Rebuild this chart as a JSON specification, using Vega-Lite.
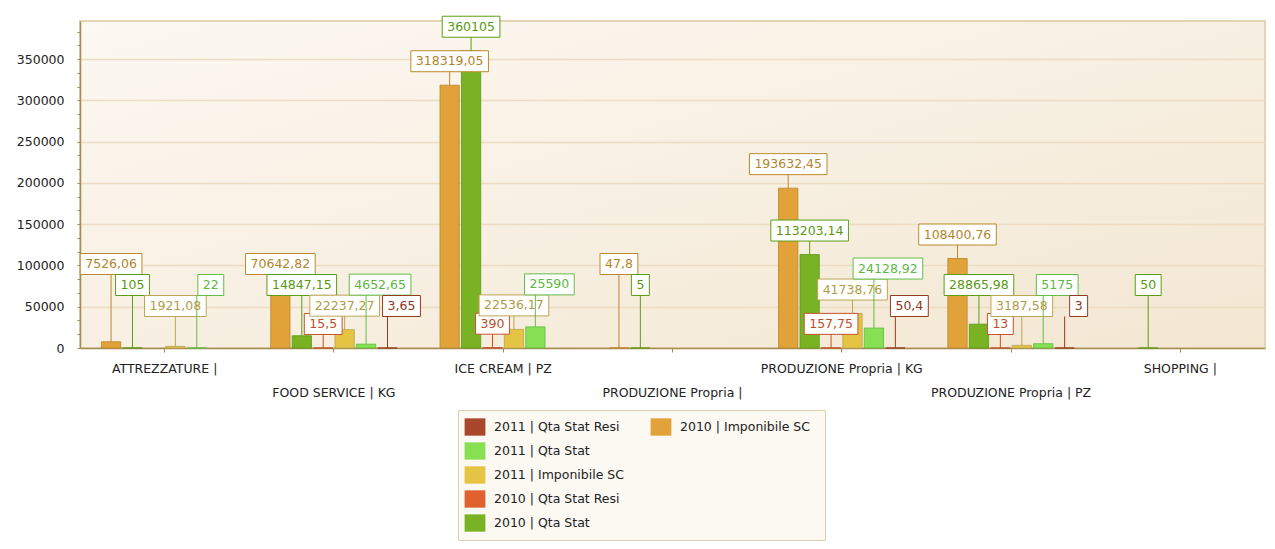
{
  "$schema": "https://vega.github.io/schema/vega-lite/v6.json",
  "width": 1185,
  "height": 327,
  "autosize": {"type": "none"},
  "padding": {"left": 80, "top": 21, "right": 10, "bottom": 201},
  "background": "#ffffff",
  "config": {
    "font": "DejaVu Sans",
    "locale": {"number": {"decimal": ",", "thousands": ".", "grouping": [3], "currency": ["€", ""]}},
    "view": {
      "fill": {"gradient": "linear", "x1": 0, "y1": 0, "x2": 1, "y2": 1, "stops": [{"offset": 0, "color": "#fcf8f2"}, {"offset": 1, "color": "#f3e7d2"}]},
      "stroke": "#e3d4b3",
      "strokeWidth": 2
    }
  },
  "data": {
    "values": [
      {"cat": "ATTREZZATURE |", "series": "2010 | Imponibile SC", "value": 7526.06},
      {"cat": "ATTREZZATURE |", "series": "2010 | Qta Stat", "value": 105},
      {"cat": "ATTREZZATURE |", "series": "2011 | Imponibile SC", "value": 1921.08},
      {"cat": "ATTREZZATURE |", "series": "2011 | Qta Stat", "value": 22},
      {"cat": "FOOD SERVICE | KG", "series": "2010 | Imponibile SC", "value": 70642.82},
      {"cat": "FOOD SERVICE | KG", "series": "2010 | Qta Stat", "value": 14847.15},
      {"cat": "FOOD SERVICE | KG", "series": "2010 | Qta Stat Resi", "value": 15.5},
      {"cat": "FOOD SERVICE | KG", "series": "2011 | Imponibile SC", "value": 22237.27},
      {"cat": "FOOD SERVICE | KG", "series": "2011 | Qta Stat", "value": 4652.65},
      {"cat": "FOOD SERVICE | KG", "series": "2011 | Qta Stat Resi", "value": 3.65},
      {"cat": "ICE CREAM | PZ", "series": "2010 | Imponibile SC", "value": 318319.05},
      {"cat": "ICE CREAM | PZ", "series": "2010 | Qta Stat", "value": 360105},
      {"cat": "ICE CREAM | PZ", "series": "2010 | Qta Stat Resi", "value": 390},
      {"cat": "ICE CREAM | PZ", "series": "2011 | Imponibile SC", "value": 22536.17},
      {"cat": "ICE CREAM | PZ", "series": "2011 | Qta Stat", "value": 25590},
      {"cat": "PRODUZIONE Propria |", "series": "2010 | Imponibile SC", "value": 47.8},
      {"cat": "PRODUZIONE Propria |", "series": "2010 | Qta Stat", "value": 5},
      {"cat": "PRODUZIONE Propria | KG", "series": "2010 | Imponibile SC", "value": 193632.45},
      {"cat": "PRODUZIONE Propria | KG", "series": "2010 | Qta Stat", "value": 113203.14},
      {"cat": "PRODUZIONE Propria | KG", "series": "2010 | Qta Stat Resi", "value": 157.75},
      {"cat": "PRODUZIONE Propria | KG", "series": "2011 | Imponibile SC", "value": 41738.76},
      {"cat": "PRODUZIONE Propria | KG", "series": "2011 | Qta Stat", "value": 24128.92},
      {"cat": "PRODUZIONE Propria | KG", "series": "2011 | Qta Stat Resi", "value": 50.4},
      {"cat": "PRODUZIONE Propria | PZ", "series": "2010 | Imponibile SC", "value": 108400.76},
      {"cat": "PRODUZIONE Propria | PZ", "series": "2010 | Qta Stat", "value": 28865.98},
      {"cat": "PRODUZIONE Propria | PZ", "series": "2010 | Qta Stat Resi", "value": 13},
      {"cat": "PRODUZIONE Propria | PZ", "series": "2011 | Imponibile SC", "value": 3187.58},
      {"cat": "PRODUZIONE Propria | PZ", "series": "2011 | Qta Stat", "value": 5175},
      {"cat": "PRODUZIONE Propria | PZ", "series": "2011 | Qta Stat Resi", "value": 3},
      {"cat": "SHOPPING |", "series": "2010 | Qta Stat", "value": 50}
    ]
  },
  "transform": [
    {"calculate": "datum.series", "as": "series2"},
    {"calculate": "datum.series === '2010 | Imponibile SC' ? 84 : datum.series === '2010 | Qta Stat' ? 63 : (datum.series === '2011 | Imponibile SC' || datum.series === '2011 | Qta Stat Resi') ? 42 : 24", "as": "lvl"},
    {"calculate": "(datum.series === '2011 | Qta Stat' || datum.series === '2011 | Qta Stat Resi') ? 14 : 0", "as": "ldx"},
    {"calculate": "datum.series === '2011 | Imponibile SC' ? datum.value : null", "as": "imp"},
    {"joinaggregate": [{"op": "max", "field": "imp", "as": "imp11"}], "groupby": ["cat"]},
    {"calculate": "(length(format(datum.value, '.2~f')) * 7.95 - ((indexof(format(datum.value, '.2~f'), '.') >= 0 || indexof(format(datum.value, '.2~f'), ',') >= 0) ? 3.95 : 0) + 10) / 100", "as": "hw"}
  ],
  "layer": [
    {
      "mark": {"type": "bar", "strokeWidth": 1, "strokeOpacity": 0.85},
      "encoding": {
        "x": {
          "field": "cat", "type": "nominal",
          "scale": {"domain": ["ATTREZZATURE |", "FOOD SERVICE | KG", "ICE CREAM | PZ", "PRODUZIONE Propria |", "PRODUZIONE Propria | KG", "PRODUZIONE Propria | PZ", "SHOPPING |"], "paddingInner": 0, "paddingOuter": 0},
          "axis": {
            "title": null, "labelAngle": 0, "tickSize": 4, "domainColor": "#a68b52", "domainWidth": 1.5, "tickColor": "#a68b52",
            "labelPadding": {"condition": {"test": "indexof(['FOOD SERVICE | KG', 'PRODUZIONE Propria |', 'PRODUZIONE Propria | PZ'], datum.value) >= 0", "value": 34}, "value": 10},
            "labelFontSize": 12.5, "labelColor": "#222222", "labelLimit": 0, "labelBaseline": "top"
          }
        },
        "xOffset": {"field": "series", "type": "nominal", "scale": {"domain": ["2010 | Imponibile SC", "2010 | Qta Stat", "2010 | Qta Stat Resi", "2011 | Imponibile SC", "2011 | Qta Stat", "2011 | Qta Stat Resi"], "paddingInner": 0.1, "paddingOuter": 1.28}},
        "y": {
          "field": "value", "type": "quantitative", "stack": null,
          "scale": {"domain": [0, 396115], "nice": false, "zero": true},
          "axis": {
            "title": null,
            "values": [0, 16666.67, 33333.33, 50000, 66666.67, 83333.33, 100000, 116666.67, 133333.33, 150000, 166666.67, 183333.33, 200000, 216666.67, 233333.33, 250000, 266666.67, 283333.33, 300000, 316666.67, 333333.33, 350000, 366666.67, 383333.33],
            "labelExpr": "datum.value % 50000 === 0 ? format(datum.value, 'd') : ''",
            "labelOverlap": false, "labelFlush": false,
            "tickSize": 3, "domainColor": "#a68b52", "domainWidth": 1.5, "tickColor": "#a68b52",
            "labelPadding": 13, "labelFontSize": 12.5, "labelColor": "#222222",
            "grid": true, "gridColor": "#ebdcc2", "gridWidth": 1.5,
            "gridOpacity": {"condition": {"test": "datum.value % 50000 === 0 && datum.value > 0", "value": 1}, "value": 0}
          }
        },
        "color": {
          "field": "series", "type": "nominal",
          "scale": {"domain": ["2010 | Imponibile SC", "2010 | Qta Stat", "2010 | Qta Stat Resi", "2011 | Imponibile SC", "2011 | Qta Stat", "2011 | Qta Stat Resi"], "range": ["#e2a23a", "#79b324", "#e0602e", "#e6c443", "#86e052", "#a8472a"]},
          "legend": {
            "title": "\u2800\u2800\u2800\u2800\u2800\u2800\u2800\u2800\u2800\u2800\u2800\u2800\u2800\u2800\u2800\u2800\u2800\u2800\u2800\u2800", "titleOrient": "right", "titleFontSize": 12.3, "titlePadding": 0, "titleLimit": 0,
            "orient": "none", "legendX": 378, "legendY": 389,
            "direction": "vertical",
            "values": ["2011 | Qta Stat Resi", "2011 | Qta Stat", "2011 | Imponibile SC", "2010 | Qta Stat Resi", "2010 | Qta Stat"],
            "symbolType": "M-1.2,-1H1.2V1H-1.2Z", "symbolSize": 300, "symbolOpacity": 1, "symbolStrokeWidth": 0,
            "labelFontSize": 12.5, "labelColor": "#222222", "labelLimit": 0, "labelOffset": 10,
            "rowPadding": 6, "padding": 8,
            "fillColor": "#fcf8f2", "strokeColor": "#dccfb2"
          }
        },
        "stroke": {
          "field": "series2", "type": "nominal",
          "scale": {"domain": ["2011 | Qta Stat Resi", "2011 | Qta Stat", "2011 | Imponibile SC", "2010 | Qta Stat Resi", "2010 | Qta Stat", "2010 | Imponibile SC"], "range": ["#963b22", "#62be45", "#bca553", "#c4532c", "#5c9e16", "#bb8a2e"]},
          "legend": {
            "title": null, "orient": "none", "legendX": 572, "legendY": 397, "padding": 0,
            "values": ["2010 | Imponibile SC"],
            "symbolType": "M-1.2,-1H1.2V1H-1.2Z", "symbolSize": 300, "symbolOpacity": 1, "symbolStrokeWidth": 0, "symbolFillColor": "#e2a23a",
            "labelFontSize": 12.5, "labelColor": "#222222", "labelLimit": 0, "labelOffset": 10,
            "encode": {"symbols": {"update": {"fill": {"value": "#e2a23a"}, "fillOpacity": {"value": 1}, "opacity": {"value": 1}}}}
          }
        }
      }
    },
    {
      "mark": {
        "type": "point", "filled": true, "fill": "#ffffff", "opacity": 1, "size": 10000, "strokeWidth": 1,
        "y": {"expr": "(datum.series === '2011 | Qta Stat' && isValid(datum.imp11) && abs(min(scale('y', datum.value) - 24, scale('y', 0) - datum.lvl) - min(scale('y', datum.imp11) - 24, scale('y', 0) - 42)) < 21) ? min(scale('y', datum.imp11) - 24, scale('y', 0) - 42) - 21 : min(scale('y', datum.value) - 24, scale('y', 0) - datum.lvl)"},
        "shape": {"expr": "'M' + (datum.ldx / 50 - datum.hw) + ',-0.21H' + (datum.ldx / 50 + datum.hw) + 'V0.21H' + (datum.ldx / 50 - datum.hw) + 'ZM0,0.21V' + ((scale('y', datum.value) - ((datum.series === '2011 | Qta Stat' && isValid(datum.imp11) && abs(min(scale('y', datum.value) - 24, scale('y', 0) - datum.lvl) - min(scale('y', datum.imp11) - 24, scale('y', 0) - 42)) < 21) ? min(scale('y', datum.imp11) - 24, scale('y', 0) - 42) - 21 : min(scale('y', datum.value) - 24, scale('y', 0) - datum.lvl))) / 50)"}
      },
      "encoding": {
        "x": {"field": "cat", "type": "nominal"},
        "xOffset": {"field": "series", "type": "nominal"},
        "stroke": {"field": "series2", "type": "nominal"}
      }
    },
    {
      "mark": {
        "type": "text", "align": "center", "baseline": "middle", "fontSize": 12.5,
        "y": {"expr": "(datum.series === '2011 | Qta Stat' && isValid(datum.imp11) && abs(min(scale('y', datum.value) - 24, scale('y', 0) - datum.lvl) - min(scale('y', datum.imp11) - 24, scale('y', 0) - 42)) < 21) ? min(scale('y', datum.imp11) - 24, scale('y', 0) - 42) - 21 : min(scale('y', datum.value) - 24, scale('y', 0) - datum.lvl)"},
        "dx": {"expr": "datum.ldx"}
      },
      "encoding": {
        "x": {"field": "cat", "type": "nominal"},
        "xOffset": {"field": "series", "type": "nominal"},
        "text": {"field": "value", "type": "quantitative", "format": ".2~f"},
        "fill": {
          "field": "series", "type": "nominal",
          "scale": {"domain": ["2010 | Imponibile SC", "2010 | Qta Stat", "2010 | Qta Stat Resi", "2011 | Imponibile SC", "2011 | Qta Stat", "2011 | Qta Stat Resi"], "range": ["#b5842a", "#579a12", "#c04e28", "#b39b48", "#5cb83f", "#913820"]},
          "legend": null
        }
      }
    }
  ]
}
